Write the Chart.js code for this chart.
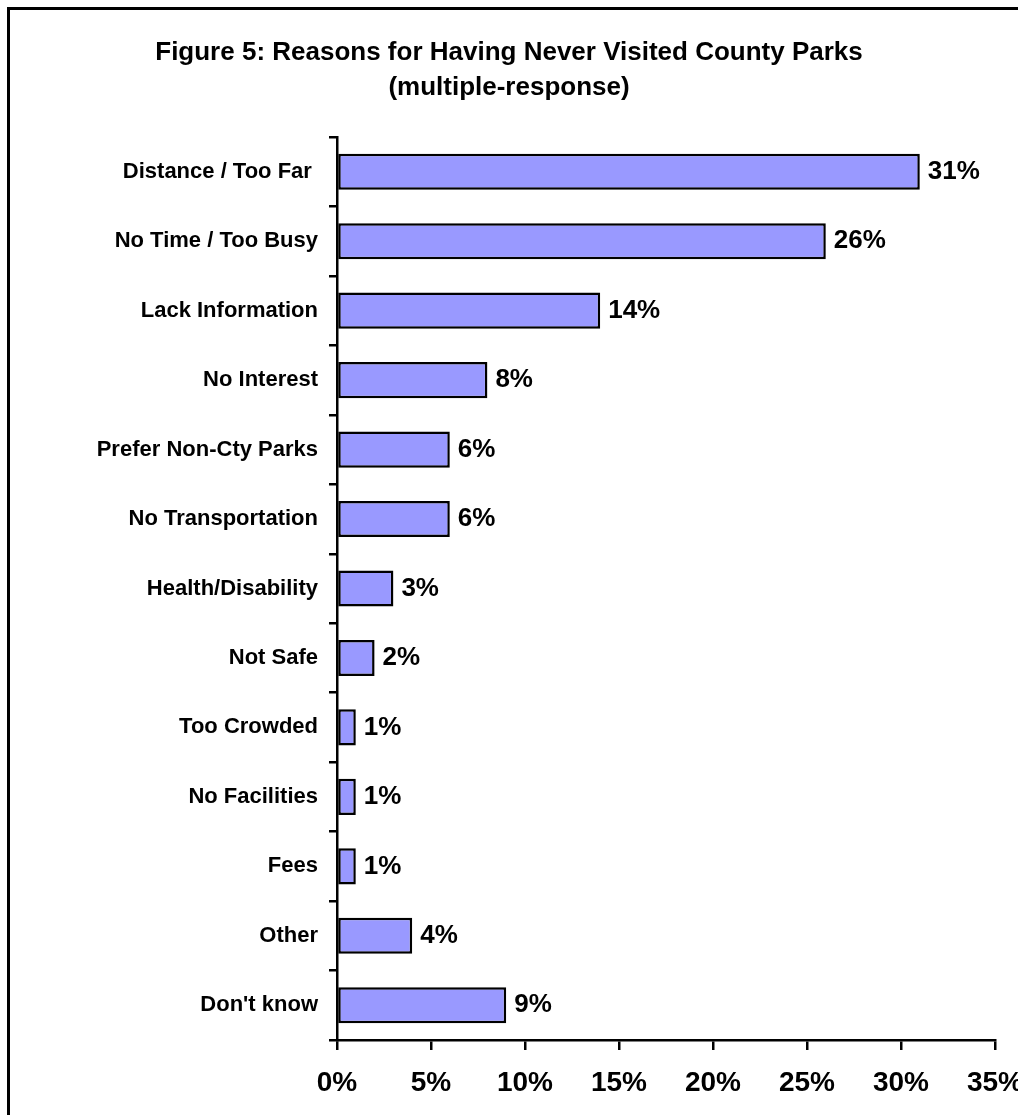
<!DOCTYPE html>
<html>
<head>
<meta charset="utf-8">
<script src="https://cdn.jsdelivr.net/npm/chart.js@4"></script>
<style>
  html, body { margin: 0; padding: 0; background: #fff; overflow: hidden; }
  canvas { display: block; }
</style>
</head>
<body>
<canvas id="reasonsChart" width="1018" height="1115"></canvas>
<script>
const categories = [
    'Distance / Too Far ', 'No Time / Too Busy', 'Lack Information', 'No Interest',
    'Prefer Non-Cty Parks', 'No Transportation', 'Health/Disability', 'Not Safe',
    'Too Crowded', 'No Facilities', 'Fees', 'Other', "Don't know"
];
const percentages = [31, 26, 14, 8, 6, 6, 3, 2, 1, 1, 1, 4, 9];
const xTicks = [0, 5, 10, 15, 20, 25, 30, 35];

const fontFamily = '"Liberation Sans", Arial, Helvetica, sans-serif';

// frame around the figure (only top / left edges fall inside the picture)
const framePlugin = {
    id: 'frame',
    beforeDraw(chart) {
        const ctx = chart.ctx;
        ctx.save();
        ctx.fillStyle = '#fff';
        ctx.fillRect(0, 0, chart.width, chart.height);
        ctx.fillStyle = '#000';
        ctx.fillRect(7, 7, chart.width, 3);
        ctx.fillRect(7, 7, 3, chart.height);
        ctx.restore();
    }
};

// value labels at the end of each bar
const valueLabels = {
    id: 'valueLabels',
    afterDatasetsDraw(chart) {
        const ctx = chart.ctx;
        const meta = chart.getDatasetMeta(0);
        ctx.save();
        ctx.font = 'bold 26px ' + fontFamily;
        ctx.fillStyle = '#000';
        ctx.textAlign = 'left';
        ctx.textBaseline = 'middle';
        meta.data.forEach((bar, i) => {
            ctx.fillText(percentages[i] + '%', bar.x + 8, bar.y);
        });
        ctx.restore();
    }
};

const ctx = document.getElementById('reasonsChart').getContext('2d');
new Chart(ctx, {
    type: 'bar',
    data: {
        labels: categories,
        datasets: [{
            data: percentages,
            backgroundColor: '#9999FF',
            borderColor: '#000',
            borderWidth: 2.5,
            borderSkipped: false,
            categoryPercentage: 1,
            barPercentage: 0.52
        }]
    },
    options: {
        indexAxis: 'y',
        responsive: false,
        animation: false,
        layout: {
            padding: { left: 23, right: 23, top: 0, bottom: 15 }
        },
        plugins: {
            legend: { display: false },
            tooltip: { enabled: false },
            title: {
                display: true,
                text: ['Figure 5: Reasons for Having Never Visited County Parks', '(multiple-response)'],
                color: '#000',
                font: { family: fontFamily, size: 26, weight: 'bold', lineHeight: 35 / 26 },
                padding: { top: 35, bottom: 32 }
            }
        },
        scales: {
            x: {
                min: 0,
                max: 35,
                afterBuildTicks: (scale) => {
                    scale.ticks = xTicks.map(v => ({ value: v }));
                },
                afterFit: (scale) => {
                    scale.paddingLeft = 0;
                    scale.paddingRight = 0;
                    scale.height = 60;
                },
                ticks: {
                    callback: (v) => v + '%',
                    color: '#000',
                    padding: 16,
                    maxRotation: 0,
                    autoSkip: false,
                    font: { family: fontFamily, size: 28, weight: 'bold' }
                },
                grid: {
                    display: true,
                    drawOnChartArea: false,
                    drawTicks: true,
                    tickLength: 10,
                    color: '#000',
                    lineWidth: 2.5
                },
                border: { display: true, color: '#000', width: 2.5 }
            },
            y: {
                afterFit: (scale) => {
                    scale.width = 314;
                },
                ticks: {
                    color: '#000',
                    padding: 11,
                    autoSkip: false,
                    font: { family: fontFamily, size: 22, weight: 'bold' }
                },
                grid: {
                    display: true,
                    drawOnChartArea: false,
                    drawTicks: true,
                    tickLength: 8,
                    color: '#000',
                    lineWidth: 2.5
                },
                border: { display: true, color: '#000', width: 2.5 }
            }
        }
    },
    plugins: [framePlugin, valueLabels]
});
</script>
</body>
</html>
